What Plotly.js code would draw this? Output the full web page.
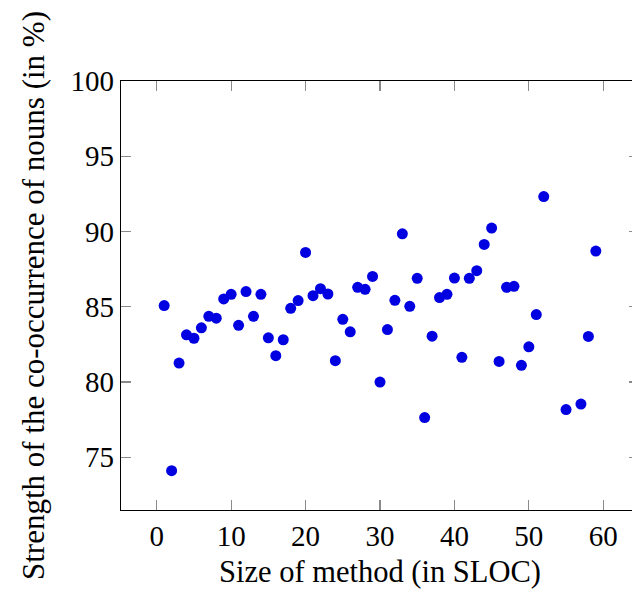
<!DOCTYPE html>
<html>
<head>
<meta charset="utf-8">
<script src="https://cdn.plot.ly/plotly-3.0.1.min.js"></script>
<style>
  html, body { margin: 0; padding: 0; overflow: hidden; background: #fff; }
  #chart { width: 640px; height: 589px; }
</style>
</head>
<body>
<div id="chart"></div>
<script>
// Method size (SLOC) against noun co-occurrence strength (%)
const methodSize = [
  1, 2, 3, 4, 5, 6, 7, 8, 9, 10,
  11, 12, 13, 14, 15, 16, 17, 18, 19, 20,
  21, 22, 23, 24, 25, 26, 27, 28, 29, 30,
  31, 32, 33, 34, 35, 36, 37, 38, 39, 40,
  41, 42, 43, 44, 45, 46, 47, 48, 49, 50,
  51, 52, 55, 57, 58, 59
];
const coOccurrence = [
  85.08, 74.11, 81.26, 83.14, 82.91, 83.60, 84.37, 84.24, 85.52, 85.83,
  83.77, 86.01, 84.37, 85.83, 82.94, 81.75, 82.81, 84.90, 85.41, 88.61,
  85.74, 86.20, 85.85, 81.42, 84.17, 83.34, 86.29, 86.16, 87.02, 80.00,
  83.49, 85.43, 89.85, 85.03, 86.89, 77.64, 83.05, 85.61, 85.83, 86.91,
  81.64, 86.89, 87.40, 89.14, 90.23, 81.37, 86.29, 86.36, 81.11, 82.34,
  84.48, 92.32, 78.17, 78.54, 83.03, 88.70
];
const xTicks = [0, 10, 20, 30, 40, 50, 60];
const yTicks = [75, 80, 85, 90, 95, 100];

const serif = 'Liberation Serif, Times New Roman, serif';

const trace = {
  type: 'scatter',
  mode: 'markers',
  x: methodSize,
  y: coOccurrence,
  marker: { color: 'rgb(0,0,225)', size: 11, line: { width: 0 } },
  hoverinfo: 'x+y'
};

const axisCommon = {
  showgrid: false,
  zeroline: false,
  showline: true,
  linecolor: '#000',
  linewidth: 1.2,
  mirror: 'ticks',
  ticks: 'inside',
  ticklen: 10,
  tickwidth: 1.1,
  tickcolor: '#8a8a8a',
  tickfont: { family: serif, size: 29, color: '#000' }
};

const layout = {
  width: 640,
  height: 589,
  margin: { l: 121, r: 1, t: 81, b: 79 },
  paper_bgcolor: '#fff',
  plot_bgcolor: '#fff',
  showlegend: false,
  font: { family: serif, color: '#000' },
  xaxis: Object.assign({}, axisCommon, {
    range: [-4.8, 64.8],
    tickmode: 'array',
    tickvals: xTicks,
    ticktext: xTicks.map(String),
    title: { text: 'Size of method (in SLOC)', font: { family: serif, size: 30.5, color: '#000' } }
  }),
  yaxis: Object.assign({}, axisCommon, {
    range: [71.5, 100],
    tickmode: 'array',
    tickvals: yTicks,
    ticktext: yTicks.map(String),
    automargin: true,
    title: {
      text: 'Strength of the co-occurrence of nouns (in %)',
      standoff: 16,
      font: { family: serif, size: 31, color: '#000' }
    }
  })
};

Plotly.newPlot('chart', [trace], layout, { staticPlot: true, displayModeBar: false });
</script>
</body>
</html>
